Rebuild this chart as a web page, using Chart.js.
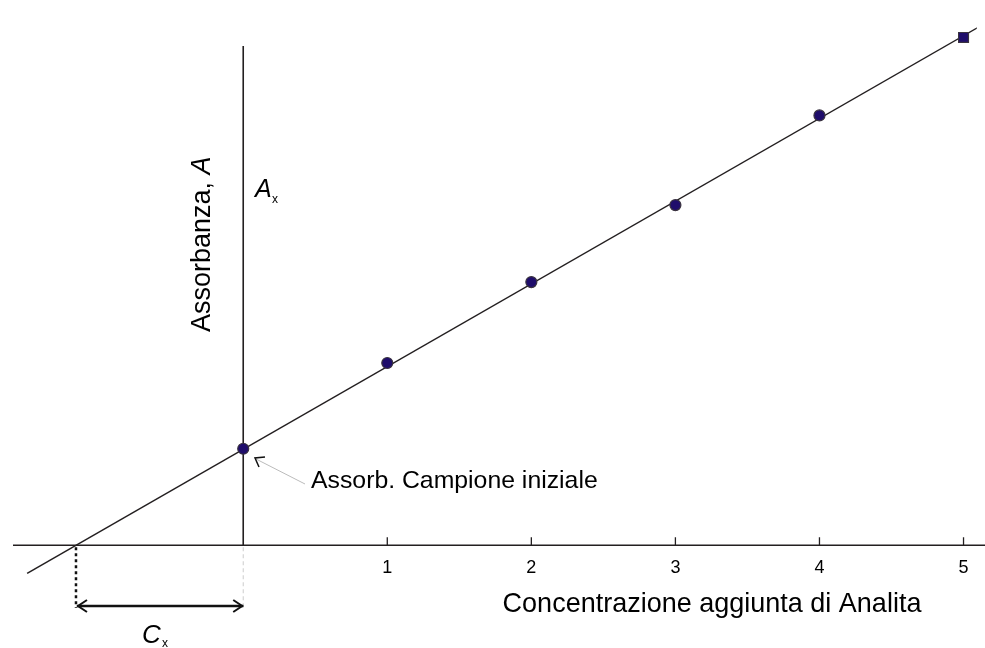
<!DOCTYPE html>
<html>
<head>
<meta charset="utf-8">
<script src="https://cdn.jsdelivr.net/npm/chart.js@4/dist/chart.umd.min.js"></script>
<style>
html,body{margin:0;padding:0;background:#fff;}
#wrap{width:985px;height:648px;}
</style>
</head>
<body>
<div id="wrap"><canvas id="c" width="985" height="648"></canvas></div>
<script>
// Data
const concentrations = [0, 1, 2, 3, 4, 5];
const absorbances = [0.198, 0.374, 0.540, 0.698, 0.882, 1.042];
const pointStyles = ['circle','circle','circle','circle','circle','rect'];
const pointSizes = [5.5, 5.5, 5.5, 5.5, 5.5, 7];
const tickLabels = ['1', '2', '3', '4', '5'];
const tickValues = [1, 2, 3, 4, 5];
const fitIntercept = 0.197;
const fitSlope = 0.1697;
const lineStartX = -1.50;
const lineEndX = 5.12;
const cxValue = -fitIntercept / fitSlope;
const xTitle = 'Concentrazione aggiunta di Analita';
const yTitle = 'Assorbanza, ';
const noteText = 'Assorb. Campione iniziale';

const fitLine = [
  {x: lineStartX, y: fitIntercept + fitSlope * lineStartX},
  {x: lineEndX, y: fitIntercept + fitSlope * lineEndX}
];

const font = 'Arial, "Liberation Sans", sans-serif';

function tallText(ctx, text, x, y, sy) {
  ctx.save();
  ctx.translate(x, y);
  ctx.scale(1, sy);
  ctx.fillText(text, 0, 0);
  ctx.restore();
}

const decor = {
  id: 'decor',
  beforeDatasetsDraw(chart) {
    const ctx = chart.ctx;
    const xs = chart.scales.x, ys = chart.scales.y;
    const X = v => xs.getPixelForValue(v);
    const Y = v => ys.getPixelForValue(v);
    ctx.save();
    ctx.strokeStyle = '#231f20';
    ctx.lineWidth = 1.6;
    ctx.beginPath();
    ctx.moveTo(13, Y(0)); ctx.lineTo(chart.width, Y(0)); ctx.stroke();
    ctx.beginPath();
    ctx.moveTo(X(0), Y(0)); ctx.lineTo(X(0), 46); ctx.stroke();
    ctx.lineWidth = 1.3;
    tickValues.forEach(v => {
      ctx.beginPath();
      ctx.moveTo(X(v), Y(0)); ctx.lineTo(X(v), Y(0) - 8); ctx.stroke();
    });
    ctx.restore();
  },
  afterDraw(chart) {
    const ctx = chart.ctx;
    const xs = chart.scales.x, ys = chart.scales.y;
    const X = v => xs.getPixelForValue(v);
    const Y = v => ys.getPixelForValue(v);
    ctx.save();
    ctx.fillStyle = '#000';
    // tick labels
    ctx.font = '18px ' + font;
    ctx.textAlign = 'center';
    ctx.textBaseline = 'alphabetic';
    tickValues.forEach((v, i) => tallText(ctx, tickLabels[i], X(v), Y(0) + 28, 1.04));
    // x title
    ctx.font = '27px ' + font;
    tallText(ctx, xTitle, 712, 612, 1.04);
    // y title rotated
    ctx.save();
    ctx.translate(210, 332);
    ctx.rotate(-Math.PI / 2);
    ctx.textAlign = 'left';
    ctx.font = '27px ' + font;
    const w1 = ctx.measureText(yTitle).width;
    ctx.fillText(yTitle, 0, 0);
    ctx.font = 'italic 27px ' + font;
    ctx.fillText('A', w1, 0);
    ctx.restore();
    // A_x label
    ctx.textAlign = 'left';
    ctx.font = 'italic 25px ' + font;
    ctx.fillText('A', 255, 197);
    ctx.font = '12px ' + font;
    ctx.fillText('x', 272, 203);
    // C_x label
    ctx.font = 'italic 26px ' + font;
    ctx.fillText('C', 142, 643);
    ctx.font = '12px ' + font;
    ctx.fillText('x', 162, 647);
    // Note text
    ctx.font = '24.8px ' + font;
    ctx.fillText(noteText, 311, 488);
    // note arrow: grey line and black arrowhead
    ctx.strokeStyle = '#bbbbbb';
    ctx.lineWidth = 1;
    ctx.beginPath();
    ctx.moveTo(305, 484); ctx.lineTo(256, 459); ctx.stroke();
    ctx.strokeStyle = '#111';
    ctx.lineWidth = 1.5;
    ctx.beginPath();
    ctx.moveTo(265, 457); ctx.lineTo(255, 458); ctx.lineTo(259, 467);
    ctx.stroke();
    // dotted vertical at Cx
    const y0 = Y(0);
    ctx.strokeStyle = '#111';
    ctx.lineWidth = 2.5;
    ctx.setLineDash([3, 3]);
    ctx.beginPath();
    ctx.moveTo(X(cxValue), y0 + 2); ctx.lineTo(X(cxValue), 608); ctx.stroke();
    // light grey dashed vertical at 0
    ctx.strokeStyle = '#cccccc';
    ctx.lineWidth = 1;
    ctx.setLineDash([4, 3]);
    ctx.beginPath();
    ctx.moveTo(X(0), y0 + 2); ctx.lineTo(X(0), 608); ctx.stroke();
    ctx.setLineDash([]);
    // double arrow
    const ay = 606;
    const ax1 = X(cxValue) + 1, ax2 = X(0);
    ctx.strokeStyle = '#111';
    ctx.lineWidth = 2.4;
    ctx.beginPath();
    ctx.moveTo(ax1, ay); ctx.lineTo(ax2, ay); ctx.stroke();
    ctx.lineWidth = 2;
    ctx.beginPath();
    ctx.moveTo(ax1 + 10, ay - 6); ctx.lineTo(ax1 + 1, ay); ctx.lineTo(ax1 + 10, ay + 6);
    ctx.moveTo(ax2 - 10, ay - 6); ctx.lineTo(ax2 - 1, ay); ctx.lineTo(ax2 - 10, ay + 6);
    ctx.stroke();
    ctx.restore();
  }
};

new Chart(document.getElementById('c'), {
  type: 'scatter',
  data: {
    datasets: [
      {
        data: concentrations.map((c, i) => ({x: c, y: absorbances[i]})),
        pointStyle: pointStyles,
        pointRadius: pointSizes,
        pointBackgroundColor: '#1f0d6b',
        pointBorderColor: '#3a3340',
        pointBorderWidth: 1.2,
        showLine: false,
        order: 1
      },
      {
        data: fitLine,
        showLine: true,
        borderColor: '#231f20',
        borderWidth: 1.5,
        pointRadius: 0,
        fill: false,
        order: 2
      }
    ]
  },
  options: {
    responsive: false,
    animation: false,
    events: [],
    layout: {padding: 0},
    plugins: {legend: {display: false}, tooltip: {enabled: false}},
    scales: {
      x: {type: 'linear', display: false, min: -239 / 146.5, max: (985 - 239) / 146.5},
      y: {type: 'linear', display: false, min: -97 / 500, max: 551 / 500}
    }
  },
  plugins: [decor]
});
</script>
</body>
</html>
